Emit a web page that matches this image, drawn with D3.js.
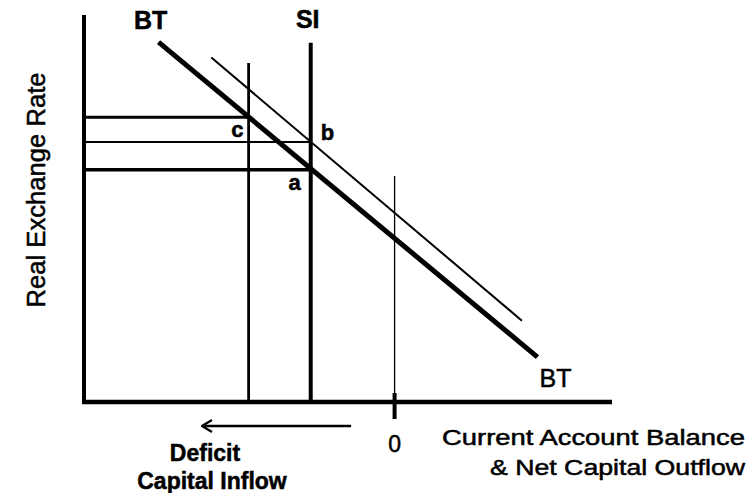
<!DOCTYPE html>
<html>
<head>
<meta charset="utf-8">
<script src="https://cdn.jsdelivr.net/npm/d3@7"></script>
<style>
  body { margin: 0; background: #fff; }
  text { font-family: "Liberation Sans", Arial, sans-serif; fill: #000; stroke: #000; stroke-width: 0.5px; }
</style>
</head>
<body>
<div id="chart"></div>
<script>
// axis ranges (current account balance, real exchange rate)
var xDomain = [-10, 7];
var yDomain = [0, 10];

// BT schedule and the shifted BT schedule (end points)
var btLine = [[-7.6, 9.3], [4.6, 1.16]];
var btShifted = [[-5.9, 8.9], [4.1, 2.1]];

// vertical lines: SI, the deficit at c, and zero balance
var verticalX = [-2.7, -4.7, 0];
var verticalTop = [9.28, 8.76, 5.84];

// equilibrium points
var pointNames = ["c", "b", "a"];
var pointX = [-4.7, -2.7, -2.7];
var pointY = [7.36, 6.72, 6.0];

var width = 750, height = 493;

var svg = d3.select("#chart")
    .append("svg")
    .attr("width", width)
    .attr("height", height);

var x = d3.scaleLinear().domain(xDomain).range([84, 612]);
var y = d3.scaleLinear().domain(yDomain).range([402, 15]);

var line = d3.line()
    .x(function(d) { return x(d[0]); })
    .y(function(d) { return y(d[1]); });

// horizontal guides from the y axis to each point
var hWidths = [3, 2, 3.5];
svg.selectAll(".hguide")
    .data(pointNames)
    .enter()
    .append("line")
    .attr("class", "hguide")
    .attr("x1", x(xDomain[0]))
    .attr("x2", function(d, i) { return x(pointX[i]); })
    .attr("y1", function(d, i) { return y(pointY[i]); })
    .attr("y2", function(d, i) { return y(pointY[i]); })
    .attr("stroke", "#000")
    .attr("stroke-width", function(d, i) { return hWidths[i]; });

// vertical lines
var vWidths = [4, 2.8, 1.3];
svg.selectAll(".vline")
    .data(verticalX)
    .enter()
    .append("line")
    .attr("class", "vline")
    .attr("x1", function(d) { return x(d); })
    .attr("x2", function(d) { return x(d); })
    .attr("y1", function(d, i) { return y(verticalTop[i]); })
    .attr("y2", y(0))
    .attr("stroke", "#000")
    .attr("stroke-width", function(d, i) { return vWidths[i]; });

// BT curves
svg.append("path")
    .attr("d", line(btShifted))
    .attr("fill", "none")
    .attr("stroke", "#000")
    .attr("stroke-width", 2);

svg.append("path")
    .attr("d", line(btLine))
    .attr("fill", "none")
    .attr("stroke", "#000")
    .attr("stroke-width", 5);

// axes
svg.append("line")
    .attr("x1", x(xDomain[0])).attr("x2", x(xDomain[0]))
    .attr("y1", y(yDomain[1])).attr("y2", y(0) + 2)
    .attr("stroke", "#000").attr("stroke-width", 4);

svg.append("line")
    .attr("x1", x(xDomain[0]) - 2).attr("x2", x(xDomain[1]))
    .attr("y1", y(0)).attr("y2", y(0))
    .attr("stroke", "#000").attr("stroke-width", 4.5);

// tick at zero
svg.append("line")
    .attr("x1", x(0)).attr("x2", x(0))
    .attr("y1", y(0) - 9).attr("y2", y(0) + 17)
    .attr("stroke", "#000").attr("stroke-width", 4);

svg.append("text")
    .attr("x", x(0))
    .attr("y", 452)
    .attr("text-anchor", "middle")
    .style("font-size", "23px")
    .text("0");

// point labels
var labelDx = [-5, 10, -10];
var labelDy = [20, -2, 20];
var labelAnchor = ["end", "start", "end"];
svg.selectAll(".plabel")
    .data(pointNames)
    .enter()
    .append("text")
    .attr("class", "plabel")
    .attr("x", function(d, i) { return x(pointX[i]) + labelDx[i]; })
    .attr("y", function(d, i) { return y(pointY[i]) + labelDy[i]; })
    .attr("text-anchor", function(d, i) { return labelAnchor[i]; })
    .style("font-size", "22px")
    .style("font-weight", "bold")
    .text(function(d) { return d; });

// curve labels
svg.append("text")
    .attr("x", x(btLine[0][0]) - 8).attr("y", 29)
    .attr("text-anchor", "middle")
    .style("font-size", "25px").style("font-weight", "bold")
    .text("BT");

svg.append("text")
    .attr("x", x(verticalX[0]) - 3).attr("y", 28)
    .attr("text-anchor", "middle")
    .style("font-size", "25px").style("font-weight", "bold")
    .text("SI");

svg.append("text")
    .attr("x", x(btLine[1][0]) + 18).attr("y", 387)
    .attr("text-anchor", "middle")
    .style("font-size", "25px")
    .text("BT");

// arrow to the left: deficit
svg.append("defs").append("marker")
    .attr("id", "arrow")
    .attr("viewBox", "0 0 12 14")
    .attr("refX", 11).attr("refY", 7)
    .attr("markerWidth", 12).attr("markerHeight", 14)
    .attr("markerUnits", "userSpaceOnUse")
    .attr("orient", "auto")
    .append("path")
    .attr("d", "M1,1 L11,7 L1,13")
    .attr("fill", "none")
    .attr("stroke", "#000")
    .attr("stroke-width", 2.2);

svg.append("line")
    .attr("x1", x(-1.4)).attr("x2", x(-6.2))
    .attr("y1", 426).attr("y2", 426)
    .attr("stroke", "#000").attr("stroke-width", 2.5)
    .attr("marker-end", "url(#arrow)");

svg.append("text")
    .attr("x", 205).attr("y", 461)
    .attr("text-anchor", "middle")
    .style("font-size", "23px").style("font-weight", "bold")
    .text("Deficit");

svg.append("text")
    .attr("x", 212).attr("y", 489)
    .attr("text-anchor", "middle")
    .style("font-size", "23px").style("font-weight", "bold")
    .text("Capital Inflow");

// x axis title
svg.append("text")
    .attr("x", 745).attr("y", 445)
    .attr("text-anchor", "end")
    .attr("textLength", 303).attr("lengthAdjust", "spacingAndGlyphs")
    .style("font-size", "22px")
    .text("Current Account Balance");

svg.append("text")
    .attr("x", 745).attr("y", 475)
    .attr("text-anchor", "end")
    .attr("textLength", 255).attr("lengthAdjust", "spacingAndGlyphs")
    .style("font-size", "22px")
    .text("& Net Capital Outflow");

// y axis title
svg.append("text")
    .attr("transform", "translate(45,190) rotate(-90)")
    .attr("text-anchor", "middle")
    .attr("textLength", 235).attr("lengthAdjust", "spacingAndGlyphs")
    .style("font-size", "25px")
    .text("Real Exchange Rate");
</script>
</body>
</html>
